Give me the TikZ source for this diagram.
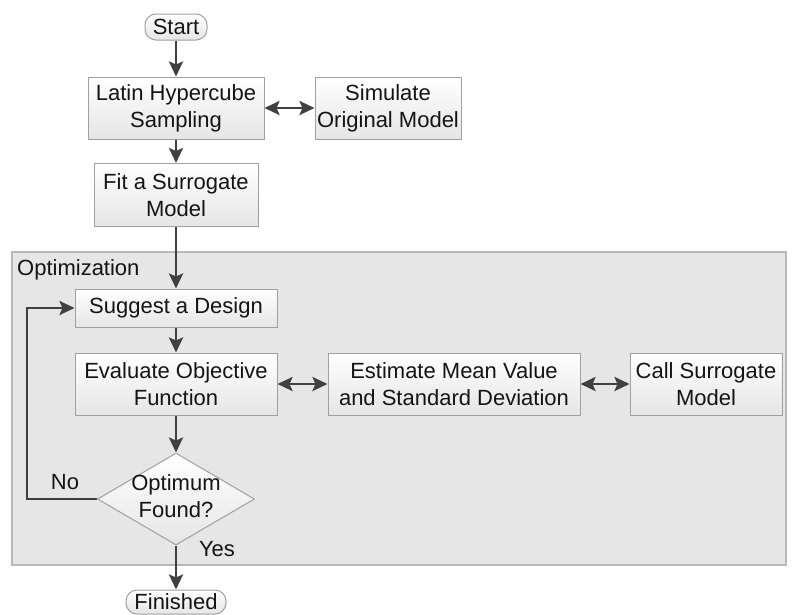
\documentclass[tikz,border=0pt]{standalone}
\usepackage{fontspec}
\setmainfont{Liberation Sans}
\usetikzlibrary{shapes.geometric,arrows.meta}
\definecolor{arr}{HTML}{404040}
\definecolor{bdr}{HTML}{A0A0A0}
\definecolor{region}{HTML}{E6E6E6}
\definecolor{txt}{HTML}{141414}
\tikzset{
  box/.style={draw=bdr, line width=1pt, top color=white, bottom color=black!10,
    align=center, inner sep=0pt, text=txt, font=\fontsize{22}{27}\selectfont},
  pill/.style={box, rounded corners=11pt},
  tip/.tip={Stealth[length=15pt,width=14pt,inset=3pt]},
  conn/.style={draw=arr, line width=2.6pt, -tip},
  biconn/.style={draw=arr, line width=2.6pt, tip-tip},
  lbl/.style={text=txt, font=\fontsize{22}{27}\selectfont, inner sep=0pt}
}
\begin{document}
\begin{tikzpicture}[x=1pt,y=-1pt]
\useasboundingbox (0,0) rectangle (795,614);
\fill[white] (0,0) rectangle (795,614);
% optimization region
\draw[draw=black!28, line width=1.2pt, fill=region] (12,252) rectangle (786,565);
\node[lbl, anchor=west] (optlbl) at (17,270) {Optimization};
% nodes
\node[pill, minimum width=62, minimum height=26] (start) at (176,27) {Start};
\node[box, minimum width=176, minimum height=62] (lhs) at (176,108) {Latin Hypercube\\Sampling};
\node[box, minimum width=146, minimum height=62] (sim) at (388,108) {Simulate\\Original Model};
\node[box, minimum width=164, minimum height=63] (fit) at (176,195) {Fit a Surrogate\\Model};
\node[box, minimum width=202, minimum height=38] (sug) at (176,308) {Suggest a Design};
\node[box, minimum width=202, minimum height=62] (eval) at (176,384) {Evaluate Objective\\Function};
\node[box, minimum width=252, minimum height=62] (est) at (454,384) {Estimate Mean Value\\and Standard Deviation};
\node[box, minimum width=152, minimum height=62] (call) at (706,384) {Call Surrogate\\Model};
\node[diamond, draw=bdr, line width=1pt, top color=white, bottom color=black!10,
      minimum width=157, minimum height=92, inner sep=0pt] (opt) at (176,499) {};
\node[lbl, align=center] (opttxt) at (176,496) {Optimum\\Found?};
\node[pill, minimum width=100, minimum height=24] (fin) at (176,602) {Finished};
\coordinate (loopa) at (27,499);
\coordinate (loopb) at (27,308);
% connectors
\draw[conn] (start) -- (lhs);
\draw[biconn] (lhs) -- (sim);
\draw[conn] (lhs) -- (fit);
\draw[conn] (fit) -- (sug);
\draw[conn] (sug) -- (eval);
\draw[biconn] (eval) -- (est);
\draw[biconn] (est) -- (call);
\draw[conn] (eval) -- (opt.north);
\draw[conn] (opt.west) -- (loopa) -- (loopb) -- (sug.west);
\draw[conn] (opt.south) -- (fin);
\node[lbl] (no) at (65,482) {No};
\node[lbl] (yes) at (217,549) {Yes};
\end{tikzpicture}
\end{document}
